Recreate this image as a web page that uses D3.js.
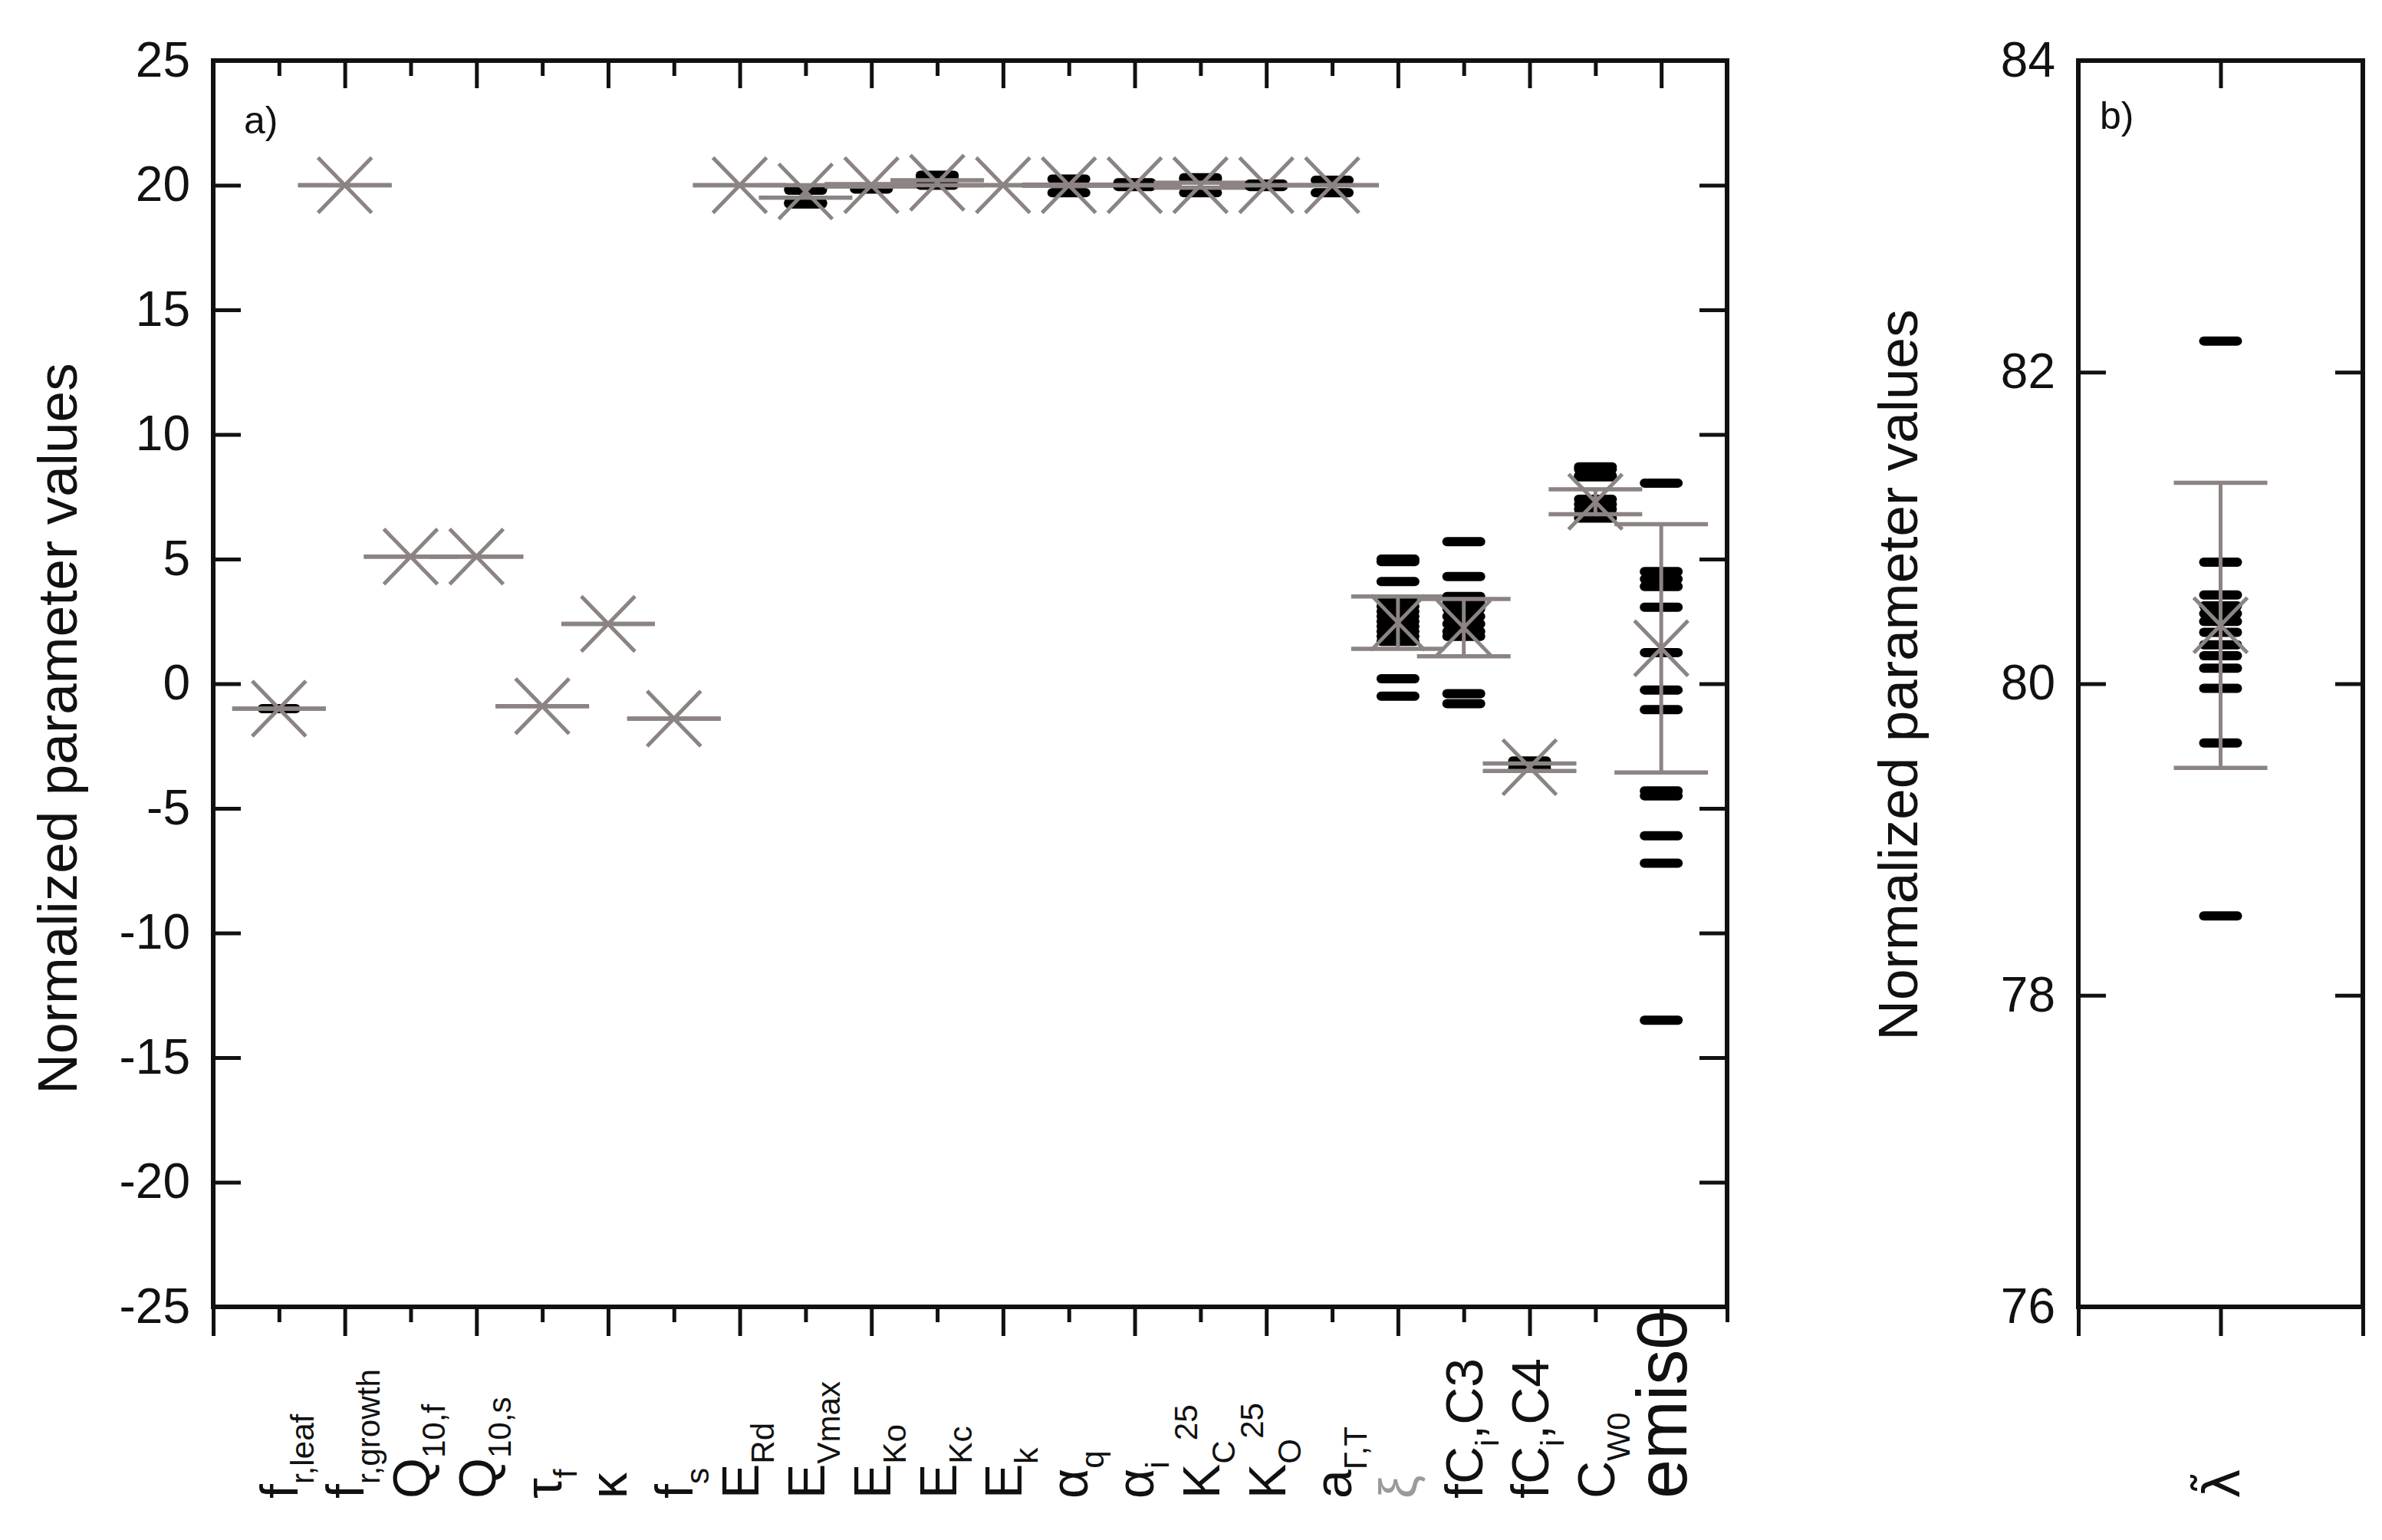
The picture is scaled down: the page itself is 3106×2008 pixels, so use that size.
<!DOCTYPE html>
<html><head><meta charset="utf-8">
<script src="https://cdn.jsdelivr.net/npm/d3@7"></script>
<style>body{margin:0;background:#fff;} svg{display:block;}</style>
</head><body>
<svg id="chart" width="3106" height="2008"></svg>
<script>
// ---------- data ----------
const categories = ["f_r,leaf","f_r,growth","Q_10,f","Q_10,s","tau_f","kappa","f_s","E_Rd","E_Vmax","E_Ko","E_Kc","E_k",
  "alpha_q","alpha_i","K_C^25","K_O^25","a_Gamma,T","xi","fC_i,C3","fC_i,C4","C_W0","emis0"];
// rich text pieces of each category label: [text, kind]
const categoryLabels = [
  [["f"],["r,leaf","sub"]],
  [["f"],["r,growth","sub"]],
  [["Q"],["10,f","sub"]],
  [["Q"],["10,s","sub"]],
  [["τ"],["f","sub"]],
  [["κ"]],
  [["f"],["s","sub"]],
  [["E"],["Rd","sub"]],
  [["E"],["Vmax","sub"]],
  [["E"],["Ko","sub"]],
  [["E"],["Kc","sub"]],
  [["E"],["k","sub"]],
  [["α"],["q","sub"]],
  [["α"],["i","sub"]],
  [["K"],["C","sub"],["25","sup"]],
  [["K"],["O","sub"],["25","sup"]],
  [["a"],["Γ,T","sub"]],
  [["ξ"]],
  [["fC"],["i","sub"],[",C3"]],
  [["fC"],["i","sub"],[",C4"]],
  [["C"],["W0","sub"]],
  [["emis0"]]
];
const means = [-1.0, 20.0, 5.1, 5.1, -0.9, 2.4, -1.4, 20.0, 19.75, 20.0, 20.1, 20.0,
  20.0, 20.0, 20.0, 20.0, 20.0, 2.45, 2.25, -3.35, 7.3, 1.42];
const sds = [0, 0, 0, 0, 0, 0, 0, 0, 0.25, 0.05, 0.1, 0,
  0.02, 0, 0.1, 0, 0, 1.05, 1.15, 0.15, 0.5, 4.98];
const runValues = [
  [-1.0], [], [], [], [], [], [], [],
  [19.85, 19.8, 19.3, 19.25, 19.3],
  [19.85],
  [20.4, 20.35, 20.0],
  [],
  [20.25, 19.7],
  [20.1, 19.95],
  [20.3, 20.25, 19.7],
  [20.05, 19.95],
  [20.2, 19.7],
  [5.0, 4.9, 4.1, 3.3, 3.1, 2.9, 2.7, 2.5, 2.3, 2.1, 1.9, 1.7, 0.2, -0.5],
  [5.7, 4.3, 3.5, 3.3, 3.0, 2.7, 2.4, 2.1, 1.9, -0.4, -0.8],
  [-3.1, -3.25, -3.4],
  [8.7, 8.6, 8.35, 8.3, 7.4, 7.2, 7.0, 6.8, 6.65],
  [8.05, 4.5, 4.2, 3.9, 3.07, 1.25, -0.25, -1.04, -4.3, -4.5, -6.1, -7.2, -13.5]
];
const yTicksA = [-25, -20, -15, -10, -5, 0, 5, 10, 15, 20, 25];

const categoryB = "λ̃";
const meanB = 80.375;
const sdB = 0.915;
const runValuesB = [82.2, 80.78, 80.57, 80.5, 80.45, 80.4, 80.33, 80.25, 80.18, 80.1, 79.97, 79.62, 78.51];
const yTicksB = [76, 78, 80, 82, 84];

const yTitle = "Normalized parameter values";

// ---------- drawing ----------
const svg = d3.select("#chart");
svg.append("rect").attr("width", 3106).attr("height", 2008).attr("fill", "#ffffff");
const FONT = "'Liberation Sans', Arial, sans-serif";
const GREY = "#8c8383";
const INK = "#111";

const xA = d3.scaleLinear().domain([0, 23]).range([278, 2252]);
const yA = d3.scaleLinear().domain([-25, 25]).range([1704, 79]);
const xB = d3.scaleLinear().domain([0, 2]).range([2710, 3081]);
const yB = d3.scaleLinear().domain([76, 84]).range([1704, 79]);

function styleAxis(g) {
  g.select(".domain").remove();
  g.selectAll(".tick line").attr("stroke", INK).attr("stroke-width", 5);
  g.selectAll(".tick text").attr("font-family", FONT).attr("font-size", 64).attr("fill", INK);
}

function frame(x, y, yTicks, xMajor, xMinor) {
  const [l, r] = x.range(); const [b, t] = y.range();
  svg.append("g").attr("transform", `translate(${l},0)`)
    .call(d3.axisLeft(y).tickValues(yTicks).tickSizeInner(-36).tickSizeOuter(0).tickPadding(30).tickFormat(d => String(d)))
    .call(styleAxis);
  svg.append("g").attr("transform", `translate(${r},0)`)
    .call(d3.axisRight(y).tickValues(yTicks.slice(1, -1)).tickSizeInner(-36).tickSizeOuter(0).tickFormat(""))
    .call(styleAxis);
  svg.append("g").attr("transform", `translate(0,${b})`)
    .call(d3.axisBottom(x).tickValues(xMajor).tickSizeInner(38).tickSizeOuter(0).tickFormat(""))
    .call(styleAxis);
  if (xMinor.length) svg.append("g").attr("transform", `translate(0,${b})`)
    .call(d3.axisBottom(x).tickValues(xMinor).tickSizeInner(20).tickSizeOuter(0).tickFormat(""))
    .call(styleAxis);
  svg.append("g").attr("transform", `translate(0,${t})`)
    .call(d3.axisTop(x).tickValues(xMajor.filter(v => v !== x.domain()[0] && v !== x.domain()[1])).tickSizeInner(-36).tickSizeOuter(0).tickFormat(""))
    .call(styleAxis);
  if (xMinor.length) svg.append("g").attr("transform", `translate(0,${t})`)
    .call(d3.axisTop(x).tickValues(xMinor.filter(v => v !== x.domain()[1])).tickSizeInner(-20).tickSizeOuter(0).tickFormat(""))
    .call(styleAxis);
  svg.append("rect").attr("x", l).attr("y", t).attr("width", r - l).attr("height", b - t)
    .attr("fill", "none").attr("stroke", INK).attr("stroke-width", 6);
}

frame(xA, yA, yTicksA, d3.range(0, 24, 2), d3.range(1, 24, 2));
frame(xB, yB, yTicksB, [0, 1, 2], []);

function drawGroup(g, cx, y, values, m, s) {
  values.forEach(v => {
    g.append("line").attr("x1", cx - 22).attr("x2", cx + 22).attr("y1", y(v)).attr("y2", y(v))
      .attr("stroke", "#000").attr("stroke-width", 12).attr("stroke-linecap", "round");
  });
  const top = y(m + s), bot = y(m - s), cy = y(m);
  g.append("line").attr("x1", cx).attr("x2", cx).attr("y1", top).attr("y2", bot)
    .attr("stroke", GREY).attr("stroke-width", 5);
  [top, bot].forEach(yy => g.append("line").attr("x1", cx - 61).attr("x2", cx + 61).attr("y1", yy).attr("y2", yy)
    .attr("stroke", GREY).attr("stroke-width", 5.5));
  g.append("line").attr("x1", cx - 35).attr("x2", cx + 35).attr("y1", cy - 36).attr("y2", cy + 36)
    .attr("stroke", GREY).attr("stroke-width", 5);
  g.append("line").attr("x1", cx - 35).attr("x2", cx + 35).attr("y1", cy + 36).attr("y2", cy - 36)
    .attr("stroke", GREY).attr("stroke-width", 5);
}

const marks = svg.append("g");
categories.forEach((c, i) => drawGroup(marks.append("g"), xA(i + 1), yA, runValues[i], means[i], sds[i]));
drawGroup(marks.append("g"), xB(1), yB, runValuesB, meanB, sdB);

// category labels (rotated, reading upward)
function richText(text, segs, fs) {
  let cur = 0;
  segs.forEach(([t, k]) => {
    const shift = k === "sub" ? 0.3 * fs : k === "sup" ? -0.42 * fs : 0;
    text.append("tspan").attr("font-size", k ? 0.62 * fs : fs).attr("dy", shift - cur).text(t);
    cur = shift;
  });
}
categoryLabels.forEach((segs, i) => {
  const fs = categories[i] === "emis0" ? 92 : 68;
  const t = svg.append("text")
    .attr("transform", `translate(${xA(i + 1) + 0.36 * fs},1954) rotate(-90)`)
    .attr("font-family", FONT).attr("font-size", fs)
    .attr("fill", categories[i] === "xi" ? "#9a9a9a" : INK);
  richText(t, segs, fs);
});
svg.append("text")
  .attr("transform", `translate(${xB(1) + 24},1954) rotate(-90)`)
  .attr("font-family", "'DejaVu Sans', sans-serif").attr("font-size", 66).attr("fill", INK)
  .text(categoryB);

// panel tags
svg.append("text").attr("x", 318).attr("y", 174).attr("font-family", FONT).attr("font-size", 50).attr("fill", INK).text("a)");
svg.append("text").attr("x", 2738).attr("y", 168).attr("font-family", FONT).attr("font-size", 50).attr("fill", INK).text("b)");

// y titles
svg.append("text").attr("transform", "translate(100,950) rotate(-90)")
  .attr("text-anchor", "middle").attr("font-family", FONT).attr("font-size", 73).attr("fill", INK).text(yTitle);
svg.append("text").attr("transform", "translate(2500,880) rotate(-90)")
  .attr("text-anchor", "middle").attr("font-family", FONT).attr("font-size", 73).attr("fill", INK).text(yTitle);
</script>
</body></html>
